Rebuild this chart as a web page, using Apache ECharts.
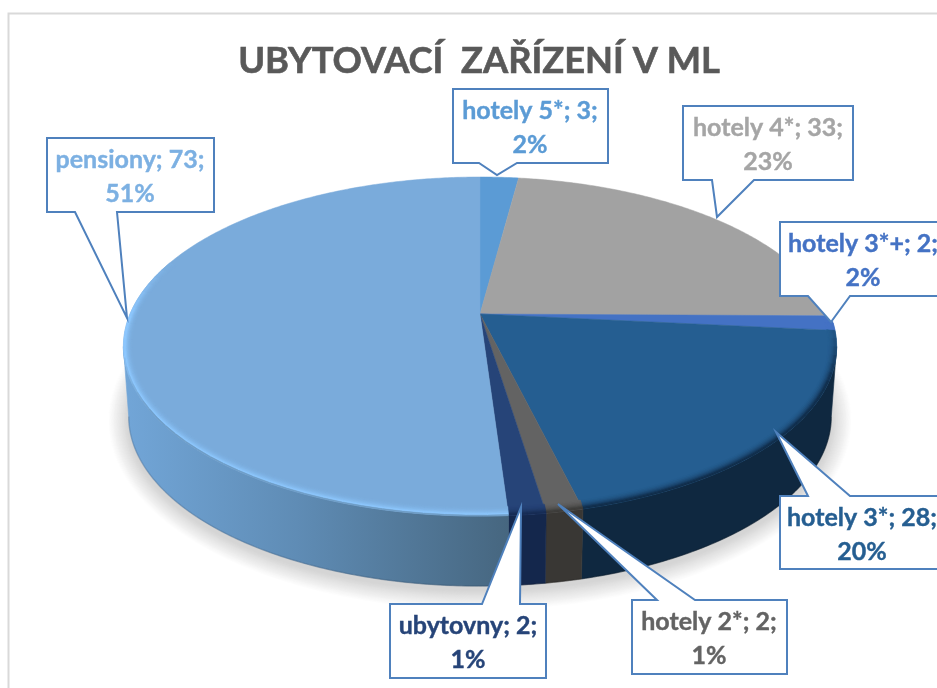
<!DOCTYPE html>
<html><head><meta charset="utf-8">
<style>html,body{margin:0;padding:0;background:#fff}#c{width:937px;height:688px}</style>
<script src="https://cdn.jsdelivr.net/npm/echarts@6/dist/echarts.min.js"></script>
</head><body><div id="c"></div>
<script>
var titleText = 'UBYTOVACÍ  ZAŘÍZENÍ V ML';
var categories = ['hotely 5*','hotely 4*','hotely 3*+','hotely 3*','hotely 2*','ubytovny','pensiony'];
var values = [3,33,2,28,2,2,73];
var percentLabels = ['2%','23%','2%','20%','1%','1%','51%'];
var topColors  = ['#5B9BD5','#A2A2A2','#4472C4','#255E91','#636363','#264478','#7AABDB'];
var sideColors = ['#3c6d99','#6f6f6f','#2e5088','#0F2840','#393734','#14274C','#46667F'];
var rimColors  = ['#5B9BD5','#A2A2A2','#4472C4','#12304F','#3f3e3c','#182E57','#8EC8FF'];
var textColors = ['#5B9BD5','#A5A5A5','#4472C4','#255E91','#636363','#264478','#7CB0E2'];
var calloutBoxes = [
 {x:453,y:89,w:155,h:74,side:'b',b1:517,b2:479,tx:497,ty:175,cx:530},
 {x:683,y:106,w:170,h:74,side:'b',b1:754,b2:712,tx:717,ty:217,cx:768},
 {x:780,y:222,w:170,h:74,side:'b',b1:850,b2:808,tx:831,ty:322,cx:863},
 {x:780,y:496,w:170,h:73,side:'t',b1:808,b2:850,tx:776,ty:432,cx:862},
 {x:632,y:600,w:155,h:74,side:'t',b1:657,b2:695,tx:558,ty:504,cx:709},
 {x:390,y:604,w:156,h:74,side:'t',b1:482,b2:520,tx:521,ty:507,cx:468},
 {x:47,y:138,w:167,h:74,side:'b',b1:117,b2:75,tx:127,ty:318,cx:130}
];
var apex = {x:480,y:314}, scaleX = 350, scaleY = 163.3, persp = 0.192, depth = 70, bottomScale = 0.985;
var total = values.reduce(function(a,b){return a+b;},0);

function angleAt(i){var s=0;for(var j=0;j<i;j++)s+=values[j];return s/total*Math.PI*2;}
function project(t,r){
  var d = 1 + persp*r*Math.cos(t);
  return [apex.x + scaleX*r*Math.sin(t)/d, apex.y - scaleY*r*Math.cos(t)/d];
}
function inset(t,r){
  var p=project(t,1),sx=1-(1-r)*0.55,sy=1-(1-r);
  return [apex.x+(p[0]-apex.x)*sx, apex.y+(p[1]-apex.y)*sy];
}
function lower(p){return [apex.x+(p[0]-apex.x)*bottomScale, p[1]+depth];}
function arc(a,b,r,step){
  var n=Math.max(2,Math.ceil((b-a)/(step||0.01))),o=[];
  for(var i=0;i<=n;i++)o.push(project(a+(b-a)*i/n,r));
  return o;
}
function hex(c){return [parseInt(c.substr(1,2),16),parseInt(c.substr(3,2),16),parseInt(c.substr(5,2),16)];}
function mixHex(a,b,t){var x=hex(a),y=hex(b);return '#'+x.map(function(v,i){var n=Math.round(v+(y[i]-v)*t).toString(16);return n.length<2?'0'+n:n;}).join('');}
var visA = Math.acos(-persp), visB = Math.PI*2-visA;

function shadowRings(){
  var kids=[],cx=apex.x,cy=apex.y+33+depth;
  for(var e=20;e>=1;e--){
    var pts=[];
    for(var i=0;i<=120;i++){
      var p=lower(project(i/120*Math.PI*2,1));
      pts.push([cx+(p[0]-cx)*(1+e/350), cy+(p[1]-cy)*(1+e/170)+4]);
    }
    var g=Math.round(255-(21-e)*2.1);
    kids.push({type:'polygon',z2:0,shape:{points:pts},style:{fill:'rgb('+g+','+g+','+g+')'}});
  }
  return kids;
}
function renderSide(params,api){
  var i=params.dataIndex,a=Math.max(angleAt(i),visA),b=Math.min(angleAt(i+1),visB);
  var kids=i===0?shadowRings():[];
  if(b>a){
    var top=arc(a,b,1),low=top.map(lower);
    var fill=sideColors[i];
    if(i===values.length-1){
      fill={type:'linear',x:122,y:0,x2:510,y2:0,global:true,colorStops:[{offset:0,color:'#72A6D8'},{offset:0.45,color:'#5F8CB5'},{offset:1,color:sideColors[i]}]};
    }
    kids.push({type:'polygon',z2:1,shape:{points:top.concat(low.slice().reverse())},style:{fill:fill,stroke:fill,lineWidth:0.6}});
    kids.push({type:'polyline',z2:1,shape:{points:low},style:{fill:null,stroke:i===values.length-1?'rgba(20,40,60,0.16)':'rgba(0,0,0,0.15)',lineWidth:1.5}});
  }
  return {type:'group',children:kids};
}
function renderTop(params,api){
  var i=params.dataIndex,a=angleAt(i),b=angleAt(i+1);
  var pts=[[apex.x,apex.y]].concat(arc(a,b,1));
  return {type:'polygon',shape:{points:pts},style:{fill:topColors[i],stroke:topColors[i],lineWidth:0.5}};
}
function renderRim(params,api){
  var i=params.dataIndex,a=angleAt(i),b=angleAt(i+1),kids=[];
  var rs=[0.955,0.962,0.969,0.976,0.983,0.989,0.995,1.0];
  var n=Math.max(1,Math.ceil((b-a)/0.05));
  for(var k=0;k<n;k++){
    var t0=a+(b-a)*k/n,t1=a+(b-a)*(k+1)/n,tm=(t0+t1)/2,c=Math.cos(tm);
    var lim=Math.sin(tm)<0?0.35:-0.05;
    var f=Math.min(1,Math.max(0,(lim-c)/0.35));
    if(f<=0)continue;
    var front=(tm>visA+0.05&&tm<visB-0.05)?Math.min(1,(visB-tm)/0.4,(tm-visA)/0.4):0;
    for(var j=0;j<rs.length-1;j++){
      var w=(j+1)/(rs.length-1);
      var col=mixHex(topColors[i],rimColors[i],Math.min(1,w*w*1.4)*f);
      if(j>=rs.length-2)col=mixHex(col,sideColors[i],0.45*front);
      var poly=[inset(t0,rs[j]),inset(t1,rs[j]),inset(t1,rs[j+1]),inset(t0,rs[j+1])];
      kids.push({type:'polygon',shape:{points:poly},style:{fill:col,stroke:col,lineWidth:0.5}});
    }
  }
  return {type:'group',children:kids};
}
function calloutPoints(b){
  var L=b.x,R=b.x+b.w,T=b.y,B=b.y+b.h;
  if(b.side==='t') return [[L,T],[b.b1,T],[b.tx,b.ty],[b.b2,T],[R,T],[R,B],[L,B]];
  return [[L,T],[R,T],[R,B],[b.b1,B],[b.tx,b.ty],[b.b2,B],[L,B]];
}
var graphics=[{type:'rect',z:0,shape:{x:8.5,y:13.5,width:1100,height:1100},style:{fill:null,stroke:'#D9D9D9',lineWidth:2}}];
calloutBoxes.forEach(function(b,i){
  graphics.push({type:'polygon',z:100,shape:{points:calloutPoints(b)},style:{fill:'#fff',stroke:'#4F81BD',lineWidth:2}});
  var line1=categories[i]+'; '+values[i]+';';
  graphics.push({type:'text',z:101,x:b.cx,y:b.y+b.h/2+2,style:{text:line1+'\n'+percentLabels[i],fill:textColors[i],stroke:textColors[i],lineWidth:0.4,font:'bold 25px Lato',align:'center',verticalAlign:'middle',lineHeight:34}});
});
var chart=echarts.init(document.getElementById('c'),null,{renderer:'canvas'});
chart.setOption({
  animation:false,
  backgroundColor:'#fff',
  title:{text:titleText,left:474,top:38,textAlign:'center',textStyle:{fontFamily:'Lato',fontWeight:'bold',fontSize:36.3,color:'#595959',textBorderColor:'#595959',textBorderWidth:0.6}},
  graphic:{elements:graphics},
  series:[
    {type:'custom',coordinateSystem:'none',z:2,silent:true,data:values,renderItem:renderSide},
    {type:'custom',coordinateSystem:'none',z:3,silent:true,data:values,renderItem:renderTop},
    {type:'custom',coordinateSystem:'none',z:4,silent:true,data:values,renderItem:renderRim}
  ]
});
</script></body></html>
